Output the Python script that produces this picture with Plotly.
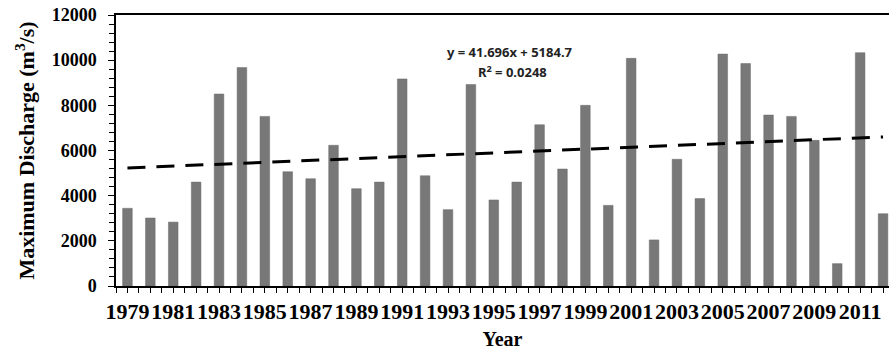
import plotly.graph_objects as go

years = list(range(1979, 2013))
discharge = [3440, 3010, 2830, 4600, 8500, 9670, 7510, 5060, 4750, 6230,
             4310, 4600, 9170, 4880, 3380, 8920, 3810, 4600, 7140, 5180,
             8000, 3570, 10080, 2040, 5610, 3870, 10270, 9850, 7570, 7510,
             6450, 990, 10330, 3200]
trend_slope = 41.696
trend_intercept = 5184.7
trend_label = "y = 41.696x + 5184.7"
r2_label = "R<sup>2</sup> = 0.0248"
y_ticks = [0, 2000, 4000, 6000, 8000, 10000, 12000]

idx = list(range(len(years)))
trend_x = [idx[0], idx[-1]]
trend_y = [trend_slope * (i + 1) + trend_intercept for i in trend_x]
label_idx = idx[::2]
label_txt = [str(years[i]) for i in label_idx]

fig = go.Figure()
fig.add_trace(go.Bar(x=idx, y=discharge, width=0.42,
                     marker=dict(color="#787878", line=dict(color="#6a6a6a", width=0.5)),
                     showlegend=False))
fig.add_trace(go.Scatter(x=trend_x, y=trend_y, mode="lines",
                         line=dict(color="black", width=3, dash="18px,11px"),
                         showlegend=False))

serif = "Liberation Serif"
fig.update_layout(
    width=889, height=354,
    margin=dict(l=116, r=0, t=15, b=68),
    paper_bgcolor="white", plot_bgcolor="white",
    xaxis=dict(
        range=[-0.5, 33.26],
        tickmode="array", tickvals=label_idx, ticktext=label_txt,
        ticks="outside", ticklen=5, tickwidth=1, tickcolor="black",
        minor=dict(ticks="outside", ticklen=5, tickwidth=1, tickcolor="black",
                   tickmode="linear", tick0=0, dtick=0.5),
        showline=True, linecolor="black", linewidth=1.5, mirror=True,
        showgrid=False, zeroline=False,
        tickangle=0,
        tickfont=dict(family=serif, size=22, color="black", weight="bold"),
        title=dict(text="Year", font=dict(family=serif, size=20, color="black", weight="bold"),
                   standoff=9),
    ),
    yaxis=dict(
        range=[0, 12000],
        tickmode="array", tickvals=y_ticks, ticktext=[str(v) for v in y_ticks],
        ticks="outside", ticklen=6, tickwidth=1, tickcolor="black",
        minor=dict(ticks="outside", ticklen=5, tickwidth=1, tickcolor="black",
                   tickmode="linear", tick0=0, dtick=400),
        showline=True, linecolor="black", linewidth=1.5,
        showgrid=False, zeroline=False,
        ticklabelstandoff=8,
        tickfont=dict(family=serif, size=18, color="black", weight="bold"),
        title=dict(text="Maximum Discharge (m<sup>3</sup>/s)",
                   font=dict(family=serif, size=22, color="black", weight="bold"),
                   standoff=11),
    ),
    annotations=[
        dict(x=16.7, y=10360, xref="x", yref="y", text=trend_label, showarrow=False,
             font=dict(family="Noto Sans", size=13, color="#222", weight="bold")),
        dict(x=16.8, y=9480, xref="x", yref="y", text=r2_label, showarrow=False,
             font=dict(family="Noto Sans", size=13, color="#222", weight="bold")),
    ],
)

fig.write_html("out.html")
